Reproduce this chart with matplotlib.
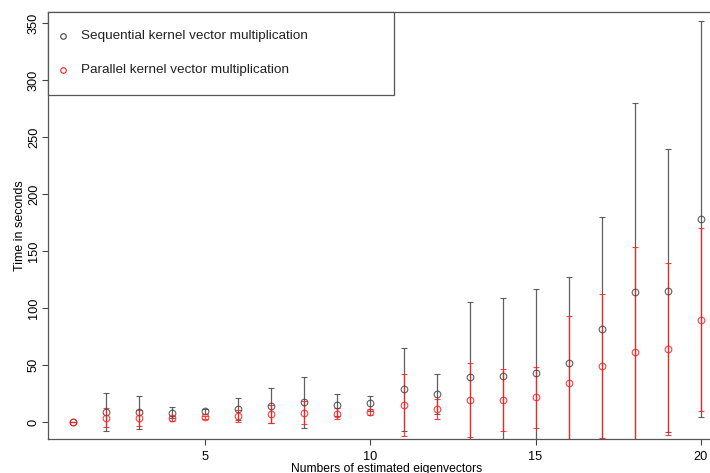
import matplotlib
matplotlib.use("Agg")
import matplotlib.pyplot as plt
from matplotlib.patches import Rectangle
import numpy as np

# mean run time and half-width of the error bar for each number of eigenvectors
n_eigen = np.arange(1, 21)
seq_mean = [0, 9.3, 8.8, 8.4, 9.6, 11.5, 14.6, 17.5, 15.2, 16.7,
            28.9, 25.1, 39.5, 40.6, 43.5, 52.3, 81.6, 114.6, 115.5, 178.3]
seq_err = [0, 16.7, 14.5, 4.8, 2.4, 9.5, 15.2, 22.5, 9.9, 6.6,
           36.5, 17.5, 66.3, 68.2, 73.4, 75.2, 98.8, 165.8, 124.0, 174.0]
par_mean = [0, 4.0, 4.0, 3.5, 4.4, 5.5, 7.5, 8.4, 7.5, 8.8,
            15.4, 11.9, 19.3, 19.6, 21.9, 34.7, 49.1, 61.7, 64.3, 90.0]
par_err = [0, 8.2, 7.2, 2.3, 1.5, 5.0, 7.9, 10.2, 4.8, 2.6,
           27.2, 8.8, 32.5, 26.9, 26.9, 58.8, 63.2, 91.8, 75.2, 80.2]

x_ticks = [5, 10, 15, 20]
y_ticks = [0, 50, 100, 150, 200, 250, 300, 350]
labels = ["Sequential kernel vector multiplication",
          "Parallel kernel vector multiplication"]
colors = ["#444444", "#ff2020"]

plt.rcParams["font.family"] = ["Liberation Sans", "DejaVu Sans"]
plt.rcParams["font.size"] = 9.0

W, H = 710, 473
fig = plt.figure(figsize=(W / 100, H / 100), dpi=100)
# plot region runs past the right edge of the canvas
left, right, top, bottom = 48, 726, 12.3, 439.3
ax = fig.add_axes([left / W, (H - bottom) / H, (right - left) / W, (bottom - top) / H])

for mean, err, col in [(seq_mean, seq_err, colors[0]), (par_mean, par_err, colors[1])]:
    ax.errorbar(n_eigen, mean, yerr=err, fmt="o", mfc="none", mec=col, ms=4.8,
                mew=0.8, ecolor=col, elinewidth=0.9, capsize=2.0, capthick=0.9,
                alpha=0.85)

ax.set_xlim(0.23, 20.77)
ax.set_ylim(-14.9, 359.6)
ax.set_xticks(x_ticks)
ax.set_yticks(y_ticks)
ax.set_yticklabels([str(v) for v in y_ticks], rotation=90, va="center")
ax.tick_params(axis="both", direction="out", length=4.4, width=0.8, color="#444444",
               labelsize=9.2)
ax.tick_params(axis="x", pad=4.0)
ax.tick_params(axis="y", pad=1.4)
for sp in ax.spines.values():
    sp.set_color("#555555")
    sp.set_linewidth(0.9)

ax.set_xlabel("Numbers of estimated eigenvectors", fontsize=8.7, labelpad=0.3)
ax.set_ylabel("Time in seconds", fontsize=9.0, labelpad=1.2)

# legend box in the top-left corner
box = Rectangle((0, 0.806), 0.510, 0.194, transform=ax.transAxes, facecolor="white",
                edgecolor="#555555", linewidth=0.9, zorder=5, clip_on=False)
ax.add_patch(box)
for i, (lab, col) in enumerate(zip(labels, colors)):
    yy = 0.9445 - i * 0.0795
    ax.plot([0.022], [yy], "o", mfc="none", mec=col, ms=4.0, mew=0.8,
            transform=ax.transAxes, zorder=6, clip_on=False)
    ax.text(0.049, yy, lab, transform=ax.transAxes, va="center", ha="left",
            fontsize=9.7, color="#222222", zorder=6)

fig.savefig("out.png", dpi=100)
